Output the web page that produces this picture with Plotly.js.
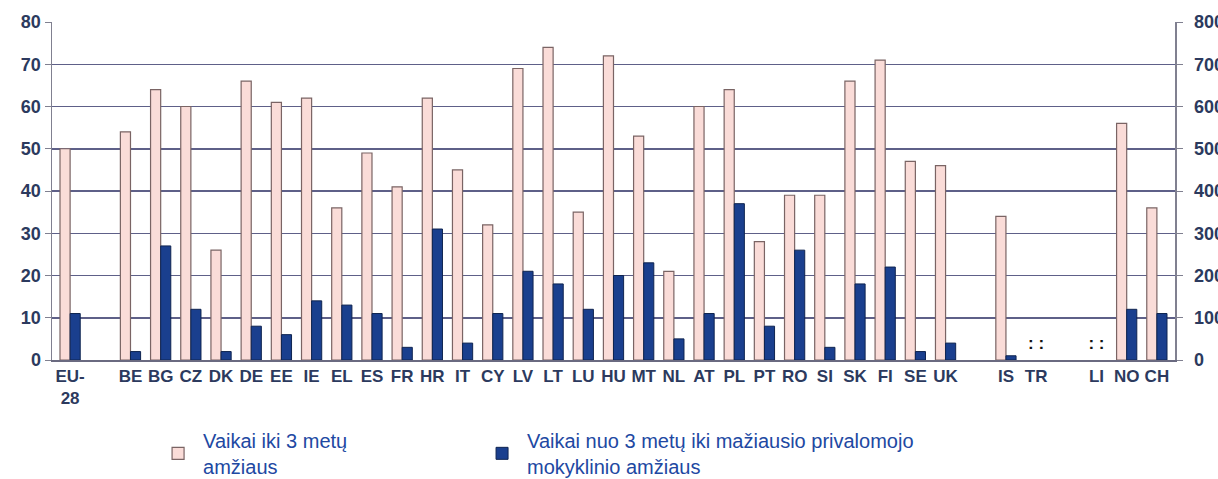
<!DOCTYPE html>
<html>
<head>
<meta charset="utf-8">
<script src="https://cdn.plot.ly/plotly-3.0.1.min.js"></script>
<style>html,body{margin:0;padding:0;background:#fff;}#chart{width:1218px;height:479px;}</style>
</head>
<body>
<div id="chart"></div>
<script>
const categories = ["EU-<br>28", " ", "BE", "BG", "CZ", "DK", "DE", "EE", "IE", "EL", "ES", "FR", "HR", "IT", "CY", "LV", "LT", "LU", "HU", "MT", "NL", "AT", "PL", "PT", "RO", "SI", "SK", "FI", "SE", "UK", "  ", "IS", "TR", "   ", "LI", "NO", "CH"];
const under3 = [50, null, 54, 64, 60, 26, 66, 61, 62, 36, 49, 41, 62, 45, 32, 69, 74, 35, 72, 53, 21, 60, 64, 28, 39, 39, 66, 71, 47, 46, null, 34, null, null, null, 56, 36];
const from3 = [11, null, 2, 27, 12, 2, 8, 6, 14, 13, 11, 3, 31, 4, 11, 21, 18, 12, 20, 23, 5, 11, 37, 8, 26, 3, 18, 22, 2, 4, null, 1, null, null, null, 12, 11];
const missingCats = ["TR", "LI"];
const missingVals = [3.6, 3.6];
const missingText = [": :", ": :"];
const seriesNames = ["Vaikai iki 3 metų<br>amžiaus", "Vaikai nuo 3 metų iki mažiausio privalomojo<br>mokyklinio amžiaus"];

const tickFamily = "Liberation Sans, Arial, sans-serif";
const tickFont = {family: tickFamily, size: 18, color: "#2c3a5e", weight: "bold"};
const legendFont = {family: "Liberation Sans, Arial, sans-serif", size: 20, color: "#2148a2"};

const traces = [
  {type: "bar", name: seriesNames[0], x: categories, y: under3, legend: "legend",
   marker: {color: "#fadcd8", line: {color: "#7a6464", width: 1.2}}},
  {type: "bar", name: seriesNames[1], x: categories, y: from3, legend: "legend2",
   marker: {color: "#1a3f8e", line: {color: "#0f2450", width: 1}}},
  {type: "scatter", mode: "text", x: missingCats, y: missingVals, text: missingText,
   textfont: {family: "Liberation Sans, Arial, sans-serif", size: 17, color: "#111", weight: "bold"},
   showlegend: false, hoverinfo: "skip"},
  {type: "scatter", x: [], y: [], yaxis: "y2", showlegend: false}
];

const layout = {
  width: 1218, height: 479,
  margin: {l: 52, r: 43, t: 22, b: 119, autoexpand: false},
  paper_bgcolor: "#fff", plot_bgcolor: "#fff",
  barmode: "group", bargap: 0.33, bargroupgap: 0,
  font: {family: "Liberation Sans, Arial, sans-serif"},
  xaxis: {type: "category", categoryorder: "array", categoryarray: categories,
          showline: true, linecolor: "#6a6a80", linewidth: 1.5, ticks: "", showgrid: false,
          tickfont: {family: tickFamily, size: 17, color: tickFont.color, weight: "bold"},
          tickangle: 0, range: [-0.6, 36.6], automargin: false},
  yaxis: {range: [0, 80], dtick: 10, showgrid: true, gridcolor: "#5e6088", gridwidth: 1.5,
          showline: true, linecolor: "#808090", linewidth: 1.5, ticks: "outside", ticklen: 6,
          tickcolor: "#808090", tickfont: tickFont, zeroline: false, automargin: false},
  yaxis2: {overlaying: "y", side: "right", range: [0, 800], dtick: 100, showgrid: false,
           showline: true, linecolor: "#808090", linewidth: 1.5, ticks: "outside", ticklen: 6,
           tickcolor: "#808090", tickfont: tickFont, zeroline: false, ticklabelstandoff: 8,
           automargin: false},
  showlegend: true,
  legend: {orientation: "h", x: 0.09, xanchor: "left", y: -0.18, yanchor: "top",
           font: legendFont, itemwidth: 40, valign: "middle", bgcolor: "rgba(0,0,0,0)"},
  legend2: {orientation: "h", x: 0.3785, xanchor: "left", y: -0.18, yanchor: "top",
           font: legendFont, itemwidth: 40, valign: "middle", bgcolor: "rgba(0,0,0,0)"}
};

Plotly.newPlot("chart", traces, layout, {displayModeBar: false, staticPlot: true});
</script>
</body>
</html>
